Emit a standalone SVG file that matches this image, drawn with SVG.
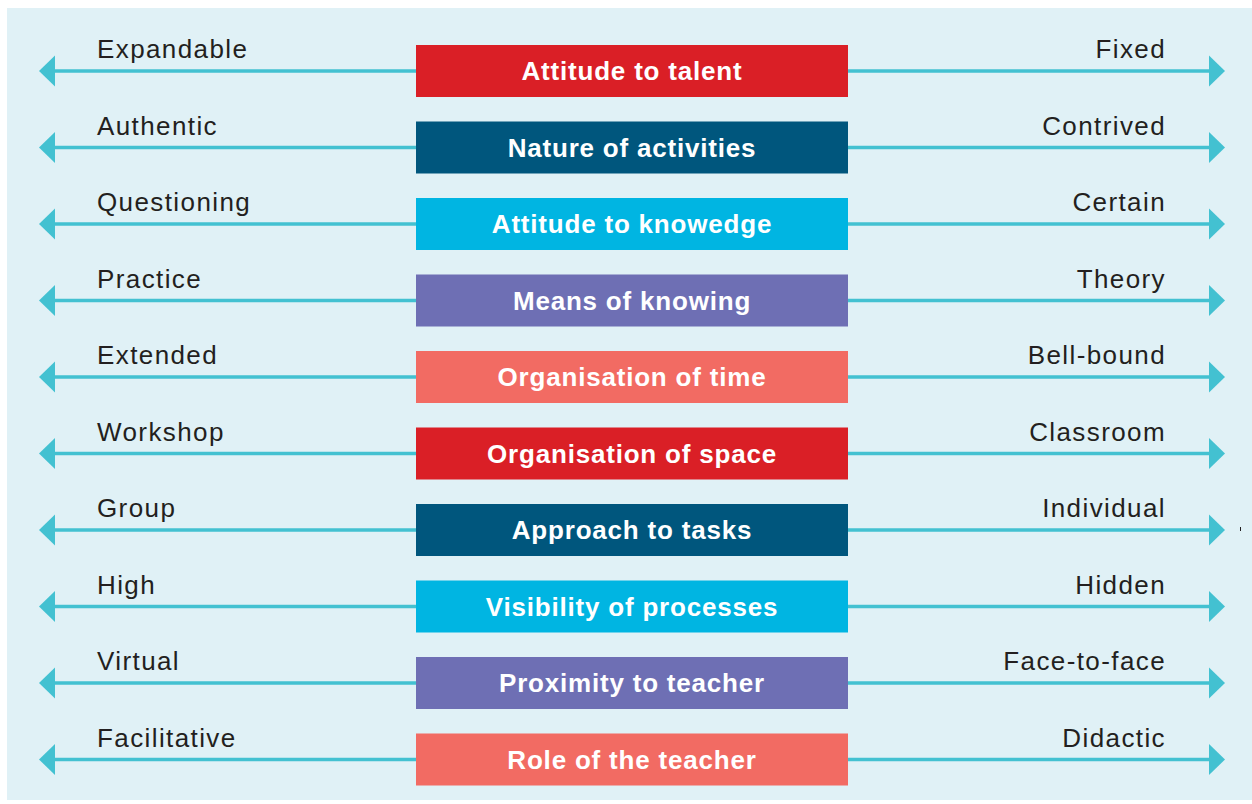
<svg xmlns="http://www.w3.org/2000/svg" width="1252" height="804" viewBox="0 0 1252 804">
<style>
.lbl{font-family:"Liberation Sans",Arial,sans-serif;font-size:26px;fill:#231f20;letter-spacing:1.4px}
.r{text-anchor:end}
.bt{font-family:"Liberation Sans",Arial,sans-serif;font-size:26px;font-weight:bold;fill:#ffffff;text-anchor:middle;letter-spacing:0.8px}
.ln{stroke:#43c1d1;stroke-width:3.5;fill:none}
.ah{fill:#43c1d1}
</style>
<defs>
<g id="conn">
<line class="ln" x1="54" y1="0" x2="416" y2="0"/>
<polygon class="ah" points="39,0 55,-15.5 55,15.5"/>
<line class="ln" x1="848" y1="0" x2="1210" y2="0"/>
<polygon class="ah" points="1225,0 1209,-15.5 1209,15.5"/>
</g>
</defs>
<rect x="7" y="8" width="1245" height="792" fill="#e0f1f6"/>
<g id="connectors">
<use href="#conn" y="71"/>
<use href="#conn" y="147.5"/>
<use href="#conn" y="224"/>
<use href="#conn" y="300.5"/>
<use href="#conn" y="377"/>
<use href="#conn" y="453.5"/>
<use href="#conn" y="530"/>
<use href="#conn" y="606.5"/>
<use href="#conn" y="683"/>
<use href="#conn" y="759.5"/>
</g>
<g id="row1"><text class="lbl" x="97" y="58">Expandable</text><rect x="416" y="45" width="432" height="52" fill="#da1f26"/><text class="bt" x="632" y="80">Attitude to talent</text><text class="lbl r" x="1166" y="58">Fixed</text></g>
<g id="row2"><text class="lbl" x="97" y="134.5">Authentic</text><rect x="416" y="121.5" width="432" height="52" fill="#00567d"/><text class="bt" x="632" y="156.5">Nature of activities</text><text class="lbl r" x="1166" y="134.5">Contrived</text></g>
<g id="row3"><text class="lbl" x="97" y="211">Questioning</text><rect x="416" y="198" width="432" height="52" fill="#00b5e2"/><text class="bt" x="632" y="233">Attitude to knowedge</text><text class="lbl r" x="1166" y="211">Certain</text></g>
<g id="row4"><text class="lbl" x="97" y="287.5">Practice</text><rect x="416" y="274.5" width="432" height="52" fill="#6e6fb4"/><text class="bt" x="632" y="309.5">Means of knowing</text><text class="lbl r" x="1166" y="287.5">Theory</text></g>
<g id="row5"><text class="lbl" x="97" y="364">Extended</text><rect x="416" y="351" width="432" height="52" fill="#f26b63"/><text class="bt" x="632" y="386">Organisation of time</text><text class="lbl r" x="1166" y="364">Bell-bound</text></g>
<g id="row6"><text class="lbl" x="97" y="440.5">Workshop</text><rect x="416" y="427.5" width="432" height="52" fill="#da1f26"/><text class="bt" x="632" y="462.5">Organisation of space</text><text class="lbl r" x="1166" y="440.5">Classroom</text></g>
<g id="row7"><text class="lbl" x="97" y="517">Group</text><rect x="416" y="504" width="432" height="52" fill="#00567d"/><text class="bt" x="632" y="539">Approach to tasks</text><text class="lbl r" x="1166" y="517">Individual</text></g>
<g id="row8"><text class="lbl" x="97" y="593.5">High</text><rect x="416" y="580.5" width="432" height="52" fill="#00b5e2"/><text class="bt" x="632" y="615.5">Visibility of processes</text><text class="lbl r" x="1166" y="593.5">Hidden</text></g>
<g id="row9"><text class="lbl" x="97" y="670">Virtual</text><rect x="416" y="657" width="432" height="52" fill="#6e6fb4"/><text class="bt" x="632" y="692">Proximity to teacher</text><text class="lbl r" x="1166" y="670">Face-to-face</text></g>
<g id="row10"><text class="lbl" x="97" y="746.5">Facilitative</text><rect x="416" y="733.5" width="432" height="52" fill="#f26b63"/><text class="bt" x="632" y="768.5">Role of the teacher</text><text class="lbl r" x="1166" y="746.5">Didactic</text></g>
<rect x="1240" y="527" width="1" height="4" fill="#231f20"/>
</svg>
